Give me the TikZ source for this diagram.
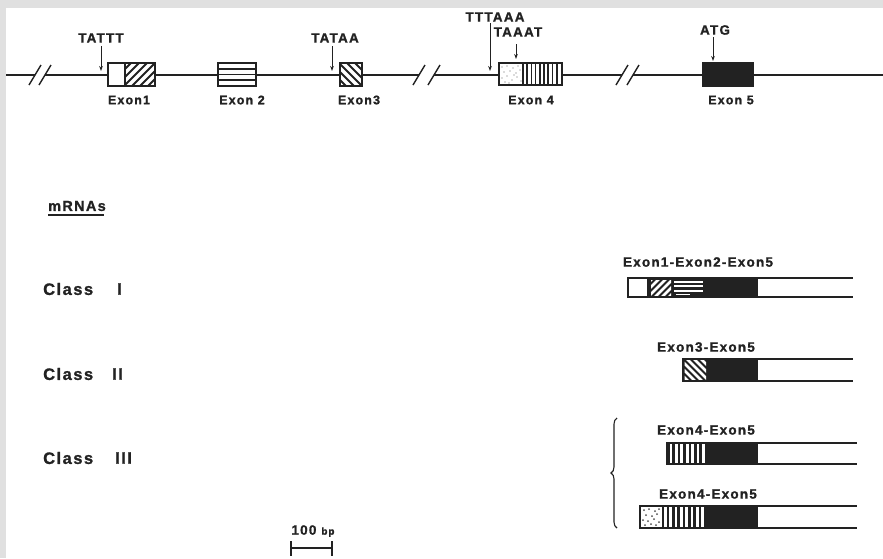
\documentclass[tikz,border=0pt]{standalone}
\usepackage{fontspec}
\usetikzlibrary{arrows.meta,decorations.pathreplacing}
\newfontfamily\lf[LetterSpace=9, BoldFeatures={FakeBold=1.2}]{Liberation Sans}
\definecolor{ink}{HTML}{222222}
\definecolor{frame}{HTML}{E0E0E0}
\begin{document}
\begin{tikzpicture}[x=1pt,y=-1pt,
  lbl/.style={font=\lf\bfseries\fontsize{13.5}{15}\selectfont, text=ink, inner sep=0pt},
  exlbl/.style={font=\lf\bfseries\fontsize{12.5}{14}\selectfont, text=ink, inner sep=0pt},
  cls/.style={font=\lf\bfseries\fontsize{16.5}{18}\selectfont, text=ink, inner sep=0pt, anchor=west},
  gline/.style={draw=ink, line width=1.8pt},
  slash/.style={draw=ink, line width=1.4pt},
  ebox/.style={draw=ink, line width=1.7pt, inner sep=0pt, outer sep=0pt},
  arr/.style={draw=ink, line width=1pt, -{Stealth[length=5pt,width=3.6pt]}},
  blk/.style={draw=ink, line width=1.4pt},
  wst/.style={draw=white, line width=2pt},
  tail/.style={draw=ink, line width=1.7pt},
]
\useasboundingbox (0,0) rectangle (883,558);
\fill[frame] (0,0) rectangle (883,558);
\fill[white] (6,8) rectangle (883,558);

% ---------------- genomic line ----------------
\coordinate (g0) at (6,75);
\coordinate (b1a) at (35,75);  \coordinate (b1b) at (45,75);
\coordinate (b2a) at (419,75); \coordinate (b2b) at (434,75);
\coordinate (b3a) at (622,75); \coordinate (b3b) at (633,75);
\coordinate (gend) at (883,75);
\draw[gline] (g0) -- (b1a);
\draw[gline] (b1b) -- (b2a);
\draw[gline] (b2b) -- (b3a);
\draw[gline] (b3b) -- (gend);
\draw[slash] (29,85) -- (41,65);
\draw[slash] (39,85) -- (51,65);
\draw[slash] (413,85) -- (425,65);
\draw[slash] (428,85) -- (440,65);
\draw[slash] (616,85) -- (628,65);
\draw[slash] (627,85) -- (639,65);

% Exon 1
\node[ebox, fill=white, minimum width=47pt, minimum height=23pt] (e1) at (131.5,74.5) {};
\begin{scope}
  \clip (125,63) rectangle (155,86);
  \foreach \i in {94,102,...,158} \draw[blk, line width=2pt] (\i,92) -- (\i+30,62);
\end{scope}
\draw[blk, line width=1.7pt] (125,63) -- (125,86);
\draw[ebox] (108,63) rectangle (155,86);

% Exon 2
\node[ebox, fill=white, minimum width=38pt, minimum height=23pt] (e2) at (237,74.5) {};
\foreach \y in {69,74.5,80} \draw[blk, line width=1.4pt] (218,\y) -- (256,\y);

% Exon 3
\node[ebox, fill=white, minimum width=22pt, minimum height=23pt] (e3) at (351,74.5) {};
\begin{scope}
  \clip (340,63) rectangle (362,86);
  \foreach \i in {312,320,...,364} \draw[blk, line width=2pt] (\i,60) -- (\i+30,90);
\end{scope}
\draw[ebox] (340,63) rectangle (362,86);

% Exon 4
\node[ebox, fill=white, minimum width=63pt, minimum height=22pt] (e4) at (530.5,74) {};
\foreach \p in {(502,67),(507,66),(513,68),(518,66),(504,72),(510,71),(516,73),(520,70),
                (502,78),(507,76),(512,80),(517,77),(521,81),(505,82),(514,75),(509,83)}
  \fill[ink!70] \p circle (0.7pt);
\foreach \x in {527,531.5,535.5,540,544,548,552.5,557}
  \draw[blk, line width=1.3pt] (\x,63) -- (\x,85);
\draw[blk, line width=1.7pt] (523,63) -- (523,85);

% Exon 5
\node[ebox, fill=ink, minimum width=50pt, minimum height=23pt] (e5) at (728,74.5) {};

% labels on the gene
\node[lbl] (tattt) at (101,38) {TATTT};
\node[lbl] (tataa) at (335,38) {TATAA};
\node[lbl] (tttaaa) at (495,17) {TTTAAA};
\node[lbl] (taaat) at (518,32) {TAAAT};
\node[lbl] (atg) at (715,30) {ATG};
\coordinate (s1a) at (101,46);  \coordinate (s1b) at (101,71);
\coordinate (s2a) at (332,46);  \coordinate (s2b) at (332,71);
\coordinate (s3a) at (490,23);  \coordinate (s3b) at (490,71);
\coordinate (s4a) at (516,44);  \coordinate (s4b) at (516,59);
\coordinate (s5a) at (713,37);  \coordinate (s5b) at (713,61);
\draw[arr] (s1a) -- (s1b);
\draw[arr] (s2a) -- (s2b);
\draw[arr] (s3a) -- (s3b);
\draw[arr] (s4a) -- (s4b);
\draw[arr] (s5a) -- (s5b);

\node[exlbl] (x1) at (129,100) {Exon1};
\node[exlbl] (x2) at (242,100) {Exon 2};
\node[exlbl] (x3) at (359,100) {Exon3};
\node[exlbl] (x4) at (531,100) {Exon 4};
\node[exlbl] (x5) at (731,100) {Exon 5};

% ---------------- mRNAs ----------------
\node[lbl, font=\lf\bfseries\fontsize{14.5}{16}\selectfont] (mr) at (77,206) {mRNAs};
\draw[ink, line width=2.4pt] ([yshift=-3.5pt]mr.south west) -- ([yshift=-3.5pt,xshift=-2pt]mr.south east);

\node[cls] (c1) at (43,289) {Class};  \node[cls] (c1n) at (117,289) {I};
\node[cls] (c2) at (43,374) {Class};  \node[cls] (c2n) at (112,374) {II};
\node[cls] (c3) at (43,458) {Class};  \node[cls] (c3n) at (115,458) {III};

% Class I
\node[lbl] (l1) at (698,262) {Exon1-Exon2-Exon5};
\node[ebox, fill=ink, minimum width=129pt, minimum height=19pt] (m1) at (692.5,287.5) {};
\fill[white] (629,279) rectangle (647,296);
\begin{scope}
  \clip (651,280) rectangle (671,295.5);
  \foreach \i in {624,631,...,680} \draw[wst, line width=2.6pt] (\i,300) -- (\i+25,275);
\end{scope}
\begin{scope}
  \clip (674,280) rectangle (703,295.5);
  \foreach \y in {282,286.3,290.6} \draw[wst, line width=2pt] (674,\y) -- (703,\y);
  \draw[wst, line width=1.5pt] (676,294.5) -- (690,294.5);
\end{scope}
\draw[tail] (m1.north east) -- (853,278);
\draw[tail] (m1.south east) -- (853,297);

% Class II
\node[lbl] (l2) at (706,347) {Exon3-Exon5};
\node[ebox, fill=ink, minimum width=74pt, minimum height=22pt] (m2) at (720,370) {};
\begin{scope}
  \clip (684.5,360.5) rectangle (706,379.5);
  \foreach \i in {655,662,...,710} \draw[wst, line width=2.6pt] (\i,355) -- (\i+30,385);
\end{scope}
\draw[tail] (m2.north east) -- (853,359);
\draw[tail] (m2.south east) -- (853,381);

% Class III (a)
\node[lbl] (l3) at (706,430) {Exon4-Exon5};
\node[ebox, fill=ink, minimum width=90pt, minimum height=21pt] (m3) at (712,453.5) {};
\begin{scope}
  \clip (668.5,444.5) rectangle (705.5,462.5);
  \foreach \x in {671,676.4,681.8,687.2,692.6,698,703.4} \draw[wst, line width=2.8pt] (\x,440) -- (\x,468);
\end{scope}
\draw[tail] (m3.north east) -- (857,443);
\draw[tail] (m3.south east) -- (857,464);

% Class III (b)
\node[lbl] (l4) at (708,494) {Exon4-Exon5};
\node[ebox, fill=ink, minimum width=117pt, minimum height=22pt] (m4) at (698.5,517) {};
\fill[white] (641,507) rectangle (661.5,527);
\foreach \p in {(644,510),(649,509),(655,511),(659,509),(646,515),(652,516),(657,514),
                (643,520),(648,521),(654,519),(659,522),(645,525),(651,524),(656,525)}
  \fill[ink!80] \p circle (1pt);
\begin{scope}
  \clip (663,507.5) rectangle (705.5,526.5);
  \foreach \x in {665.5,670.8,676.1,681.4,686.7,692,697.3,702.6} \draw[wst, line width=2.7pt] (\x,500) -- (\x,532);
\end{scope}
\draw[tail] (m4.north east) -- (857,506);
\draw[tail] (m4.south east) -- (857,528);

% brace for class III
\coordinate (brb) at (617,528);
\coordinate (brt) at (617,418);
\draw[ink, line width=1.1pt, decorate, decoration={brace, amplitude=6pt}] (brb) -- (brt);

% scale bar
\node[lbl] (sb) at (313,531) {100 {\fontsize{10}{12}\selectfont bp}};
\coordinate (sbl) at (291,548); \coordinate (sbr) at (332,548);
\draw[ink, line width=1.6pt] (sbl) -- (sbr);
\draw[ink, line width=1.6pt] (291,541) -- (291,556);
\draw[ink, line width=1.6pt] (332,541) -- (332,556);
\end{tikzpicture}
\end{document}
